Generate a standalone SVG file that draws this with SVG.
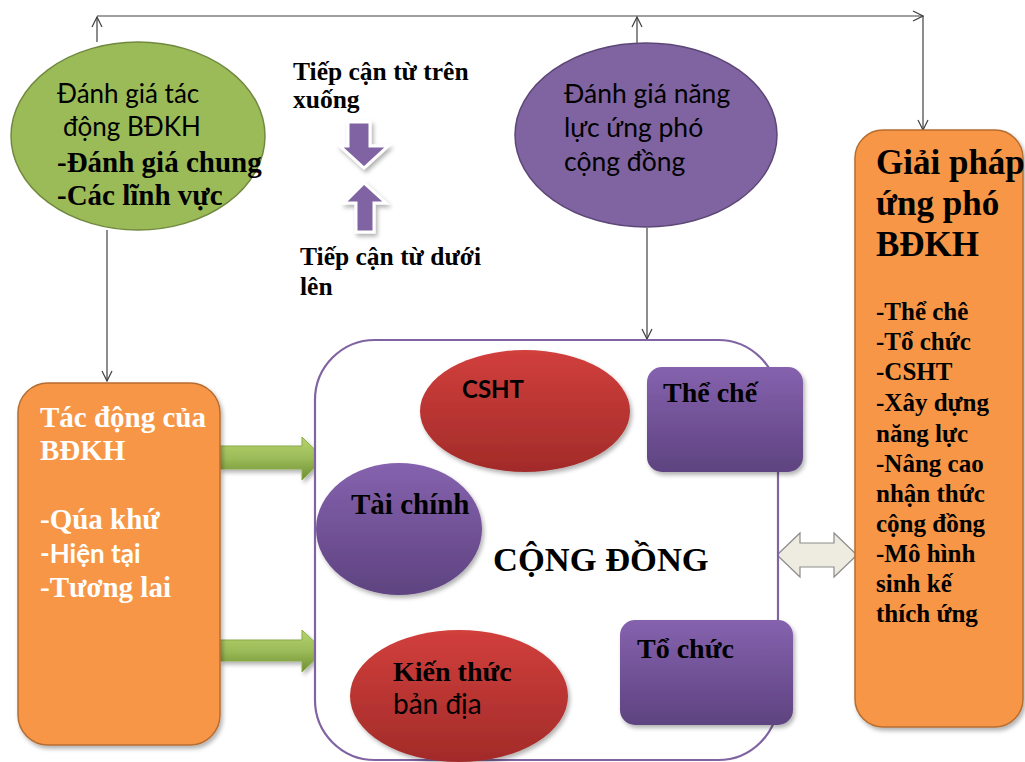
<svg xmlns="http://www.w3.org/2000/svg" width="1025" height="762" viewBox="0 0 1025 762">
  <defs>
    <marker id="open" viewBox="0 0 12 12" refX="11" refY="6" markerWidth="12" markerHeight="12" markerUnits="userSpaceOnUse" orient="auto">
      <path d="M1,1 L11,6 L1,11" fill="none" stroke="#404040" stroke-width="1.2"/>
    </marker>
    <linearGradient id="gRed" x1="0" y1="0" x2="0" y2="1">
      <stop offset="0" stop-color="#D13F3C"/>
      <stop offset="1" stop-color="#A22B29"/>
    </linearGradient>
    <linearGradient id="gPurple" x1="0" y1="0" x2="0" y2="1">
      <stop offset="0" stop-color="#8562AE"/>
      <stop offset="1" stop-color="#5E4380"/>
    </linearGradient>
    <linearGradient id="gGreen" x1="0" y1="0" x2="0" y2="1">
      <stop offset="0" stop-color="#B5D46C"/>
      <stop offset="0.5" stop-color="#9BBB59"/>
      <stop offset="1" stop-color="#6E8E30"/>
    </linearGradient>
    <filter id="shadow" x="-10%" y="-10%" width="125%" height="130%">
      <feDropShadow dx="2" dy="3" stdDeviation="2" flood-color="#000" flood-opacity="0.3"/>
    </filter>
  </defs>
  <style>
    .sans { font-family: Lato, "Open Sans", "Liberation Sans", sans-serif; }
    .serif { font-family: "Liberation Serif", "Times New Roman", serif; font-weight: bold; }
    .conn { fill: none; stroke: #404040; stroke-width: 1.2; }
    .t26 { font-size: 26px; }
    .t28 { font-size: 28px; }
    .t29 { font-size: 29px; }
  </style>

  <rect width="1025" height="762" fill="#FFFFFF"/>

  <!-- connectors -->
  <g id="connectors">
    <line class="conn" x1="97" y1="42" x2="97" y2="17" marker-end="url(#open)"/>
    <line class="conn" x1="637" y1="43" x2="637" y2="17" marker-end="url(#open)"/>
    <polyline class="conn" points="97,16 923,16" marker-end="url(#open)"/>
    <line class="conn" x1="923" y1="16" x2="923" y2="130" marker-end="url(#open)"/>
    <line class="conn" x1="107" y1="230" x2="107" y2="381" marker-end="url(#open)"/>
    <line class="conn" x1="647" y1="228" x2="647" y2="339" marker-end="url(#open)"/>
    <!-- block arrows -->
    <path d="M220,446 H302 V437 L324,458.5 L302,480 V469 H220 Z" fill="url(#gGreen)" stroke="#8AAA4C" stroke-width="1" filter="url(#shadow)"/>
    <path d="M220,640 H302 V630 L324,651 L302,672 V661 H220 Z" fill="url(#gGreen)" stroke="#8AAA4C" stroke-width="1" filter="url(#shadow)"/>
    <path d="M777,555 L800,533 V543 H834 V533 L857,555 L834,577 V567 H800 V577 Z" fill="#EEECE1" stroke="#8C8C8C" stroke-width="1.2"/>
    <path d="M348,122 H370 V146 H388 L364,168 L340,146 H348 Z" fill="#8064A2" stroke="#FFFFFF" stroke-width="3" filter="url(#shadow)"/>
    <path d="M364,183 L386,203 H374 V232 H356 V203 H344 Z" fill="#8064A2" stroke="#FFFFFF" stroke-width="3" filter="url(#shadow)"/>
  </g>

  <!-- approach labels -->
  <g id="approach-labels">
    <text class="serif" x="293" y="80" font-size="25.5">Tiếp cận từ trên</text>
    <text class="serif" x="293" y="108" font-size="25.5">xuống</text>
    <text class="serif" x="300" y="265" font-size="25.5">Tiếp cận từ dưới</text>
    <text class="serif" x="300" y="295" font-size="25.5">lên</text>
  </g>

  <g id="impact-assessment">
    <ellipse cx="138" cy="136" rx="127" ry="94" fill="#9BBB59" stroke="#71893F" stroke-width="1.5"/>
    <text class="sans t26" x="57" y="103">Đánh giá tác</text>
    <text class="sans t26" x="63" y="136">động BĐKH</text>
    <text class="serif t29" x="57" y="172">-Đánh giá chung</text>
    <text class="serif t29" x="57" y="205">-Các lĩnh vực</text>
  </g>

  <g id="capacity-assessment">
    <ellipse cx="646" cy="135" rx="131" ry="92" fill="#8064A2" stroke="#5C4776" stroke-width="1.5"/>
    <text class="sans" x="564" y="103" font-size="26.5">Đánh giá năng</text>
    <text class="sans" x="564" y="137" font-size="26.5">lực ứng phó</text>
    <text class="sans" x="564" y="171" font-size="26.5">cộng đồng</text>
  </g>

  <g id="impacts">
    <rect x="18" y="383" width="202" height="362" rx="30" fill="#F79646" stroke="#B66D31" stroke-width="1.5" filter="url(#shadow)"/>
    <g fill="#FFFFFF">
      <text class="serif t29" x="40" y="427">Tác động của</text>
      <text class="serif t29" x="40" y="460">BĐKH</text>
      <text class="serif t29" x="40" y="529">-Qúa khứ</text>
      <text class="sans t26" x="40" y="563" font-weight="bold">-Hiện tại</text>
      <text class="serif t29" x="40" y="597">-Tương lai</text>
    </g>
  </g>

  <g id="community">
    <rect x="315" y="340" width="463" height="420" rx="60" fill="#FFFFFF" stroke="#8064A2" stroke-width="2.2"/>
    <text class="serif" x="493" y="571" font-size="34.5">CỘNG ĐỒNG</text>
  </g>

  <g id="infrastructure">
    <ellipse cx="525" cy="411" rx="105" ry="61" fill="url(#gRed)" filter="url(#shadow)"/>
    <text class="sans" x="462" y="398" font-size="24" font-weight="bold">CSHT</text>
  </g>

  <g id="institutions">
    <rect x="647" y="367" width="156" height="105" rx="15" fill="url(#gPurple)" filter="url(#shadow)"/>
    <text class="serif t28" x="663" y="402">Thể chế</text>
  </g>

  <g id="finance">
    <ellipse cx="399" cy="529" rx="83" ry="66" fill="url(#gPurple)" filter="url(#shadow)"/>
    <text class="serif t29" x="351" y="514">Tài chính</text>
  </g>

  <g id="local-knowledge">
    <ellipse cx="459" cy="696" rx="109" ry="66" fill="url(#gRed)" filter="url(#shadow)"/>
    <text class="serif t28" x="393" y="681">Kiến thức</text>
    <text class="sans t28" x="393" y="714">bản địa</text>
  </g>

  <g id="organization">
    <rect x="620" y="620" width="173" height="105" rx="15" fill="url(#gPurple)" filter="url(#shadow)"/>
    <text class="serif t28" x="637" y="658">Tổ chức</text>
  </g>

  <g id="solutions">
    <rect x="855" y="130" width="168" height="597" rx="28" fill="#F79646" stroke="#B66D31" stroke-width="1.5" filter="url(#shadow)"/>
    <g class="serif" font-size="35">
      <text x="876" y="174">Giải pháp</text>
      <text x="876" y="215">ứng phó</text>
      <text x="876" y="256">BĐKH</text>
    </g>
    <g class="serif" font-size="25">
      <text x="876" y="320">-Thể chê</text>
      <text x="876" y="350">-Tổ chức</text>
      <text x="876" y="380">-CSHT</text>
      <text x="876" y="411">-Xây dựng</text>
      <text x="876" y="442">năng lực</text>
      <text x="876" y="472">-Nâng cao</text>
      <text x="876" y="502">nhận thức</text>
      <text x="876" y="532">cộng đồng</text>
      <text x="876" y="562">-Mô hình</text>
      <text x="876" y="592">sinh kế</text>
      <text x="876" y="622">thích ứng</text>
    </g>
  </g>
</svg>
